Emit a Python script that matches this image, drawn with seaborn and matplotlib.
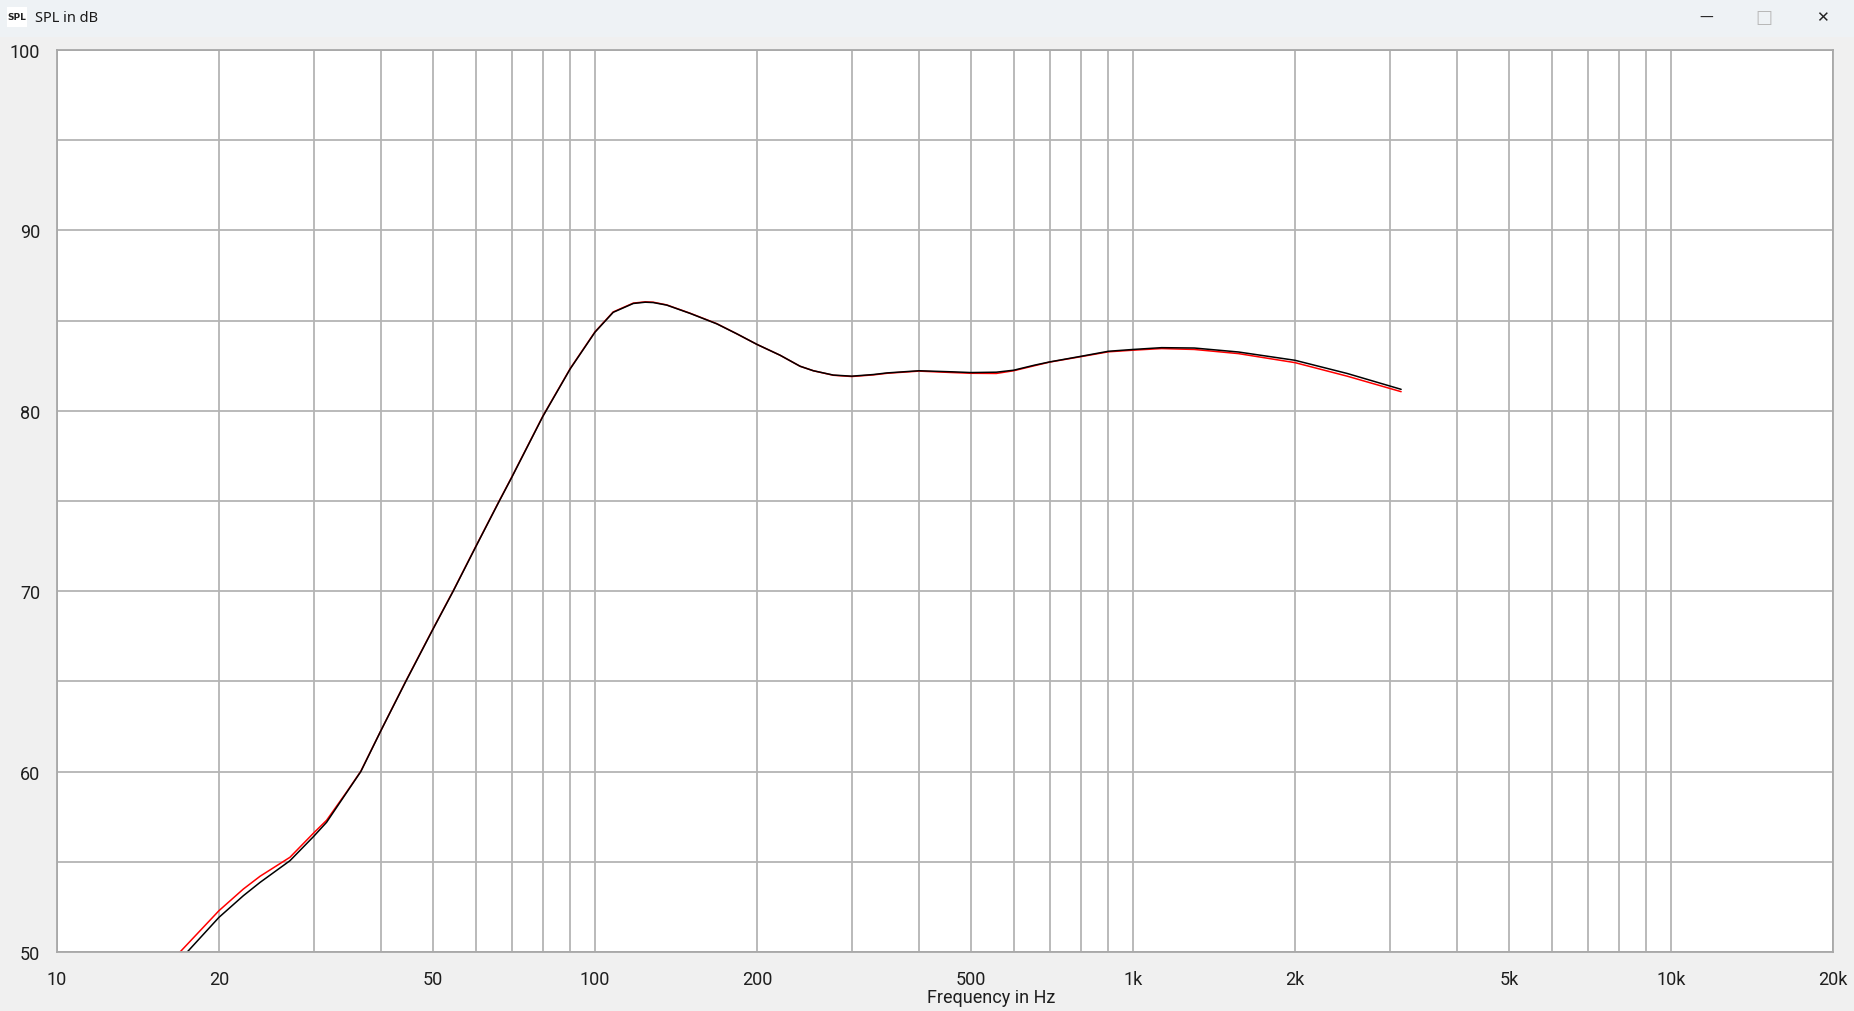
import numpy as np
import pandas as pd
import matplotlib
matplotlib.use("Agg")
import matplotlib.pyplot as plt
import seaborn as sns

# ---- data ----
freq_black = [17.46, 20, 22.2, 23.85, 27.1, 30, 31.7, 34.56, 36.7, 40, 44.5, 50, 54.5, 60, 66.4, 70,
              80, 90, 100, 108.1, 117.8, 124, 128.3, 135.9, 150.2, 168.4, 183.4, 200, 220.8, 240.5,
              254.6, 277.3, 300, 329, 349, 400, 462, 500, 557, 600, 656, 700, 800, 900, 1000, 1130,
              1300, 1570, 2000, 2500, 3150]
spl_black = [50.0, 51.92, 53.12, 53.86, 55.06, 56.41, 57.19, 58.85, 60.0, 62.27, 65.0, 67.9, 70.0, 72.45, 75.0, 76.3,
             79.69, 82.34, 84.36, 85.46, 85.95, 86.02, 86.0, 85.86, 85.4, 84.82, 84.27, 83.68, 83.08, 82.47,
             82.22, 81.98, 81.92, 82.01, 82.1, 82.22, 82.16, 82.12, 82.14, 82.25, 82.53, 82.71, 83.02, 83.3, 83.4, 83.5,
             83.48, 83.26, 82.8, 82.07, 81.19]
freq_red = [16.93, 20, 22.2, 23.85, 27.1, 30, 31.7, 34.56, 36.7, 40, 44.5, 50, 54.5, 60, 66.4, 70,
            80, 90, 100, 108.1, 117.8, 124, 128.3, 135.9, 150.2, 168.4, 183.4, 200, 220.8, 240.5,
            254.6, 277.3, 300, 329, 349, 400, 462, 500, 557, 600, 656, 700, 800, 900, 1000, 1130,
            1300, 1570, 2000, 2500, 3150]
spl_red = [50.0, 52.29, 53.49, 54.2, 55.25, 56.6, 57.3, 58.88, 60.02, 62.28, 65.02, 67.92, 70.02, 72.47, 75.02, 76.32,
           79.71, 82.36, 84.38, 85.48, 85.97, 86.04, 86.02, 85.87, 85.41, 84.83, 84.27, 83.68, 83.08, 82.47,
           82.22, 81.97, 81.9, 81.99, 82.08, 82.2, 82.12, 82.08, 82.07, 82.22, 82.5, 82.7, 83.0, 83.27, 83.36, 83.45,
           83.4, 83.17, 82.67, 81.92, 81.06]

x_grid = [10, 20, 30, 40, 50, 60, 70, 80, 90, 100, 200, 300, 400, 500, 600, 700, 800, 900,
          1000, 2000, 3000, 4000, 5000, 6000, 7000, 8000, 9000, 10000, 20000]
x_labels = {10: "10", 20: "20", 50: "50", 100: "100", 200: "200", 500: "500", 1000: "1k",
            2000: "2k", 5000: "5k", 10000: "10k", 20000: "20k"}
y_grid = [50, 55, 60, 65, 70, 75, 80, 85, 90, 95, 100]
y_labels = {50: "50", 60: "60", 70: "70", 80: "80", 90: "90", 100: "100"}

df_black = pd.DataFrame({"f": freq_black, "spl": spl_black})
df_red = pd.DataFrame({"f": freq_red, "spl": spl_red})

sns.set_style("white")
plt.rcParams['font.family'] = ['Roboto', 'DejaVu Sans']

W, H = 1854, 1012
fig = plt.figure(figsize=(W / 100, H / 100), dpi=100, facecolor="#f0f0f0")

# window title bar
fig.patches.append(plt.Rectangle((0, 1 - 38 / H), 1, 38 / H, transform=fig.transFigure,
                                 facecolor="#eef2f5", edgecolor="none", zorder=0))
fig.patches.append(plt.Rectangle((7 / W, 1 - 28 / H), 20 / W, 20 / H, transform=fig.transFigure,
                                 facecolor="white", edgecolor="none", zorder=1))
fig.text(17 / W, 1 - 18 / H, "SPL", fontsize=6.5, fontweight="bold", ha="center", va="center",
         family=['DejaVu Sans'], color="#222222")
fig.text(35 / W, 1 - 18 / H, "SPL in dB", fontsize=10.5, ha="left", va="center",
         family=['Noto Sans', 'DejaVu Sans'], color="#1a1a1a")
fig.text(1706 / W, 1 - 18 / H, "\u2014", fontsize=10, ha="center", va="center",
         family=['DejaVu Sans'], color="#222222")
fig.text(1764 / W, 1 - 18 / H, "\u25a1", fontsize=13, ha="center", va="center",
         family=['DejaVu Sans'], color="#b8b8b8")
fig.text(1822 / W, 1 - 18 / H, "\u2715", fontsize=11, ha="center", va="center",
         family=['DejaVu Sans'], color="#222222")

ax = fig.add_axes([57 / W, 1 - 953 / H, (1833 - 57) / W, (953 - 51) / H])
ax.set_facecolor("white")

sns.lineplot(data=df_red, x="f", y="spl", ax=ax, color="#ff0000", lw=1.1, estimator=None)
sns.lineplot(data=df_black, x="f", y="spl", ax=ax, color="#000000", lw=1.1, estimator=None)

ax.set_xscale("log")
ax.set_xlim(10, 20000)
ax.set_ylim(50, 100)
ax.set_xticks(x_grid)
ax.set_xticklabels([x_labels.get(v, "") for v in x_grid])
ax.set_xticks([], minor=True)
ax.set_yticks(y_grid)
ax.set_yticklabels([y_labels.get(v, "") for v in y_grid])
ax.grid(True, color="#b4b4b4", lw=1.3)
ax.tick_params(length=0, labelsize=13, colors="#1e1e1e")
ax.tick_params(axis="x", pad=13)
ax.tick_params(axis="y", pad=12)
ax.set_xlabel("")
ax.set_ylabel("")
for s in ax.spines.values():
    s.set_color("#a8a8a8")
    s.set_linewidth(1.3)

fig.text(991 / W, 1 - 998 / H, "Frequency in Hz", fontsize=13, ha="center", va="center",
         color="#1e1e1e")

fig.savefig("out.png", dpi=100, facecolor=fig.get_facecolor())
